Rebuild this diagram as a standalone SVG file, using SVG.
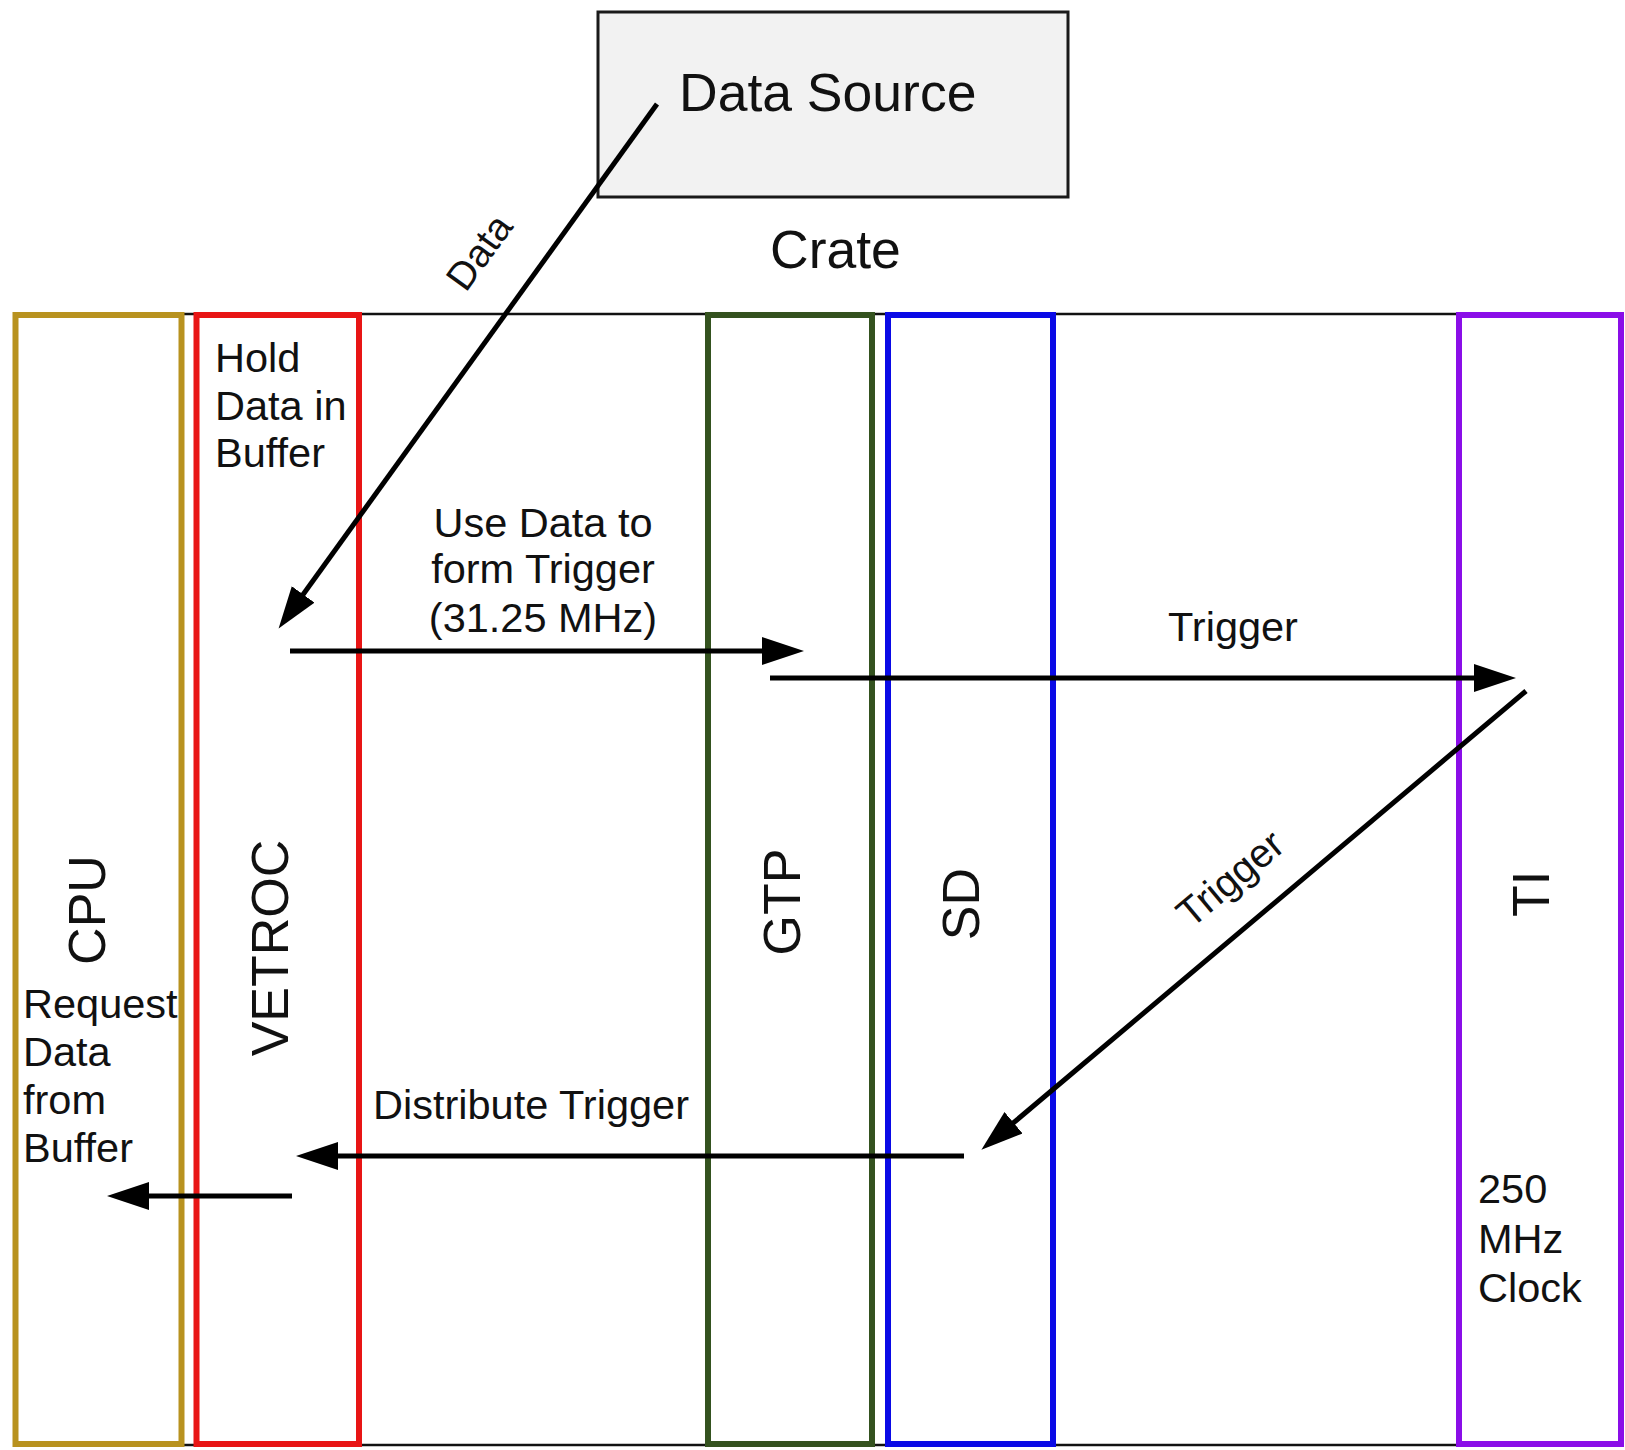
<svg xmlns="http://www.w3.org/2000/svg" width="1625" height="1450" viewBox="0 0 1625 1450">
<style>
text{font-family:"Liberation Sans",Arial,sans-serif;fill:#111}
.lbl{font-size:41.5px}
.big{font-size:52px}
.mod{fill:#fff;stroke-width:6}
.conn{stroke:#000;stroke-width:5;fill:none}
</style>
<defs>
<marker id="ah" markerUnits="userSpaceOnUse" markerWidth="44" markerHeight="30" refX="2" refY="14" orient="auto">
<path d="M0,0 L42,14 L0,28 z" fill="#000"/>
</marker>
</defs>
<rect width="1625" height="1450" fill="#fff"/>
<g id="crate">
<rect x="15" y="314" width="1606" height="1131" fill="#fff" stroke="#111" stroke-width="2.5"/>
<text x="770" y="268" style="font-size:53.5px">Crate</text>
</g>
<g id="data-source">
<rect x="598" y="12" width="470" height="185" fill="#f2f2f2" stroke="#1a1a1a" stroke-width="3"/>
<text x="679" y="111" style="font-size:53.5px">Data Source</text>
</g>
<g id="cpu">
<rect class="mod" x="15.5" y="315" width="166" height="1129" stroke="#b8921f"/>
<text class="big" text-anchor="middle" transform="translate(105,910) rotate(-90)">CPU</text>
<text class="lbl" x="23" y="1018">Request</text>
<text class="lbl" x="23" y="1066">Data</text>
<text class="lbl" x="23" y="1114">from</text>
<text class="lbl" x="23" y="1162">Buffer</text>
</g>
<g id="vetroc">
<rect class="mod" x="196.5" y="315" width="162.5" height="1129" stroke="#e81515"/>
<text class="big" text-anchor="middle" transform="translate(288,948) rotate(-90)">VETROC</text>
<text class="lbl" x="215" y="372">Hold</text>
<text class="lbl" x="215" y="420">Data in</text>
<text class="lbl" x="215" y="467">Buffer</text>
</g>
<g id="gtp">
<rect class="mod" x="708" y="315" width="164" height="1129" stroke="#34521f"/>
<text class="big" text-anchor="middle" transform="translate(800,902) rotate(-90)">GTP</text>
</g>
<g id="sd">
<rect class="mod" x="888" y="315" width="165" height="1129" stroke="#0a0ae6"/>
<text class="big" text-anchor="middle" transform="translate(979,904) rotate(-90)">SD</text>
</g>
<g id="ti">
<rect class="mod" x="1459" y="315" width="162" height="1129" stroke="#8a0ee8"/>
<text class="big" text-anchor="middle" transform="translate(1549,894) rotate(-90)">TI</text>
<text class="lbl" x="1478" y="1203">250</text>
<text class="lbl" x="1478" y="1253">MHz</text>
<text class="lbl" x="1478" y="1302">Clock</text>
</g>
<g id="connectors">
<path class="conn" d="M657,104 L302,596" marker-end="url(#ah)"/>
<path class="conn" d="M290,651 L764,651" marker-end="url(#ah)"/>
<path class="conn" d="M770,678 L1476,678" marker-end="url(#ah)"/>
<path class="conn" d="M1526,691 L1012,1124" marker-end="url(#ah)"/>
<path class="conn" d="M964,1156 L336,1156" marker-end="url(#ah)"/>
<path class="conn" d="M292,1196 L147,1196" marker-end="url(#ah)"/>
<text style="font-size:39px" text-anchor="middle" transform="translate(490,260) rotate(-54)">Data</text>
<text class="lbl" text-anchor="middle" x="543" y="537">Use Data to</text>
<text class="lbl" text-anchor="middle" x="543" y="583">form Trigger</text>
<text class="lbl" text-anchor="middle" x="543" y="632">(31.25 MHz)</text>
<text class="lbl" text-anchor="middle" x="1233" y="641">Trigger</text>
<text style="font-size:40px" text-anchor="middle" transform="translate(1239,889) rotate(-40)">Trigger</text>
<text class="lbl" x="373" y="1119">Distribute Trigger</text>
</g>
</svg>
